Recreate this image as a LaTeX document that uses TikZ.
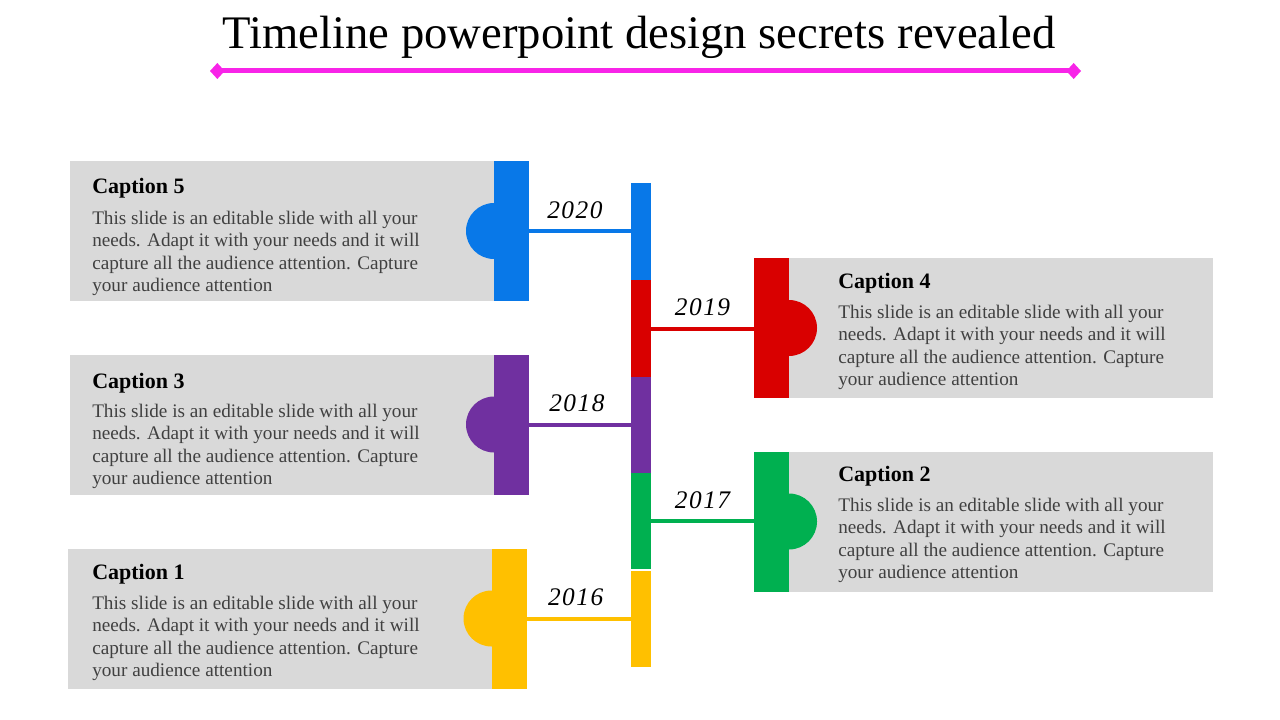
\documentclass[tikz,border=0pt]{standalone}
\usepackage{fontspec}
\setmainfont{Liberation Serif}
\newfontfamily\yearfont[LetterSpace=6]{Liberation Serif}
\usetikzlibrary{positioning}
\usetikzlibrary{arrows.meta}
\definecolor{slidegray}{RGB}{217, 217, 217}
\definecolor{bodygray}{RGB}{64, 64, 64}
\definecolor{capblue}{RGB}{8, 120, 232}
\definecolor{capred}{RGB}{217, 0, 0}
\definecolor{cappurple}{RGB}{112, 48, 160}
\definecolor{capgreen}{RGB}{0, 176, 80}
\definecolor{capyellow}{RGB}{255, 192, 0}
\definecolor{rulemagenta}{RGB}{248, 36, 232}

\tikzset{
  panel/.style={fill=slidegray, minimum width=318pt, minimum height=105pt, inner sep=0pt, outer sep=0pt},
  tab/.style={minimum width=26.25pt, minimum height=105pt, inner sep=0pt, outer sep=0pt},
  spine/.style={minimum width=15pt, minimum height=72.4pt, inner sep=0pt, outer sep=0pt},
  link/.style={line width=3pt},
  year/.style={font=\fontsize{19}{21}\selectfont\yearfont\itshape, inner sep=0pt},
  captitle/.style={font=\fontsize{16.5}{19}\selectfont\bfseries, anchor=base west, inner sep=0pt},
  capbody/.style={font=\fontsize{14.4}{16.7}\selectfont, text=bodygray, align=left, anchor=north west, inner sep=0pt}
}
\newcommand{\captext}{This slide is an editable slide with all your\\needs. Adapt it with your needs and it will\\capture all the audience attention. Capture\\your audience attention}

\begin{document}
\begin{tikzpicture}[x=0.75pt, y=-0.75pt]
  \useasboundingbox (0,0) rectangle (1280,720);
  \node[font=\fontsize{35}{40}\selectfont, anchor=base, inner sep=0pt] (title) at (639,49) {Timeline powerpoint design secrets revealed};
  \coordinate (rulel) at (210,71);
  \coordinate (ruler) at (1081,71);
  \draw[rulemagenta, line width=3.75pt, {Turned Square[length=11pt, width=12pt]}-{Turned Square[length=11pt, width=12pt]}] (rulel) -- (ruler);

  \node[spine, fill=capblue]   (seg5) at (641,231.5) {};
  \node[spine, fill=capred]    (seg4) at (641,328.5) {};
  \node[spine, fill=cappurple] (seg3) at (641,425)   {};
  \node[spine, fill=capgreen]  (seg2) at (641,521)   {};
  \node[spine, fill=capyellow, minimum height=72pt] (seg1) at (641,619) {};

  \node[tab, fill=capblue]   (tab5) at (511.5,231)   {};
  \node[tab, fill=capred]    (tab4) at (771.5,328)   {};
  \node[tab, fill=cappurple] (tab3) at (511.5,424.5) {};
  \node[tab, fill=capgreen]  (tab2) at (771.5,521.5) {};
  \node[tab, fill=capyellow] (tab1) at (509,618.5)   {};

  \node[panel, left=0pt of tab5]  (box5) {};
  \node[panel, right=0pt of tab4] (box4) {};
  \node[panel, left=0pt of tab3]  (box3) {};
  \node[panel, right=0pt of tab2] (box2) {};
  \node[panel, left=0pt of tab1]  (box1) {};

  \fill[capblue]   (tab5.west) circle (21pt);
  \fill[capred]    (tab4.east) circle (21pt);
  \fill[cappurple] (tab3.west) circle (21pt);
  \fill[capgreen]  (tab2.east) circle (21pt);
  \fill[capyellow] (tab1.west) circle (21pt);
  \node[tab, fill=capblue]   at (tab5) {};
  \node[tab, fill=capred]    at (tab4) {};
  \node[tab, fill=cappurple] at (tab3) {};
  \node[tab, fill=capgreen]  at (tab2) {};
  \node[tab, fill=capyellow] at (tab1) {};

  \draw[link, capblue]   (tab5.east) -- (tab5.east -| seg5.west) node[year, pos=0.45, above=8pt, text=black] (y2020) {2020};
  \draw[link, capred]    (seg4.east) -- (seg4.east -| tab4.west) node[year, midway, above=8pt, text=black] (y2019) {2019};
  \draw[link, cappurple] (tab3.east) -- (tab3.east -| seg3.west) node[year, pos=0.47, above=8pt, text=black] (y2018) {2018};
  \draw[link, capgreen]  (seg2.east) -- (seg2.east -| tab2.west) node[year, midway, above=8pt, text=black] (y2017) {2017};
  \draw[link, capyellow] (tab1.east) -- (tab1.east -| seg1.west) node[year, pos=0.47, above=8pt, text=black] (y2016) {2016};

  \node[captitle] (cap5) at (92,194)  {Caption 5};
  \node[capbody]  (txt5) at (92,211)  {\captext};
  \node[captitle] (cap4) at (838,288) {Caption 4};
  \node[capbody]  (txt4) at (838,305) {\captext};
  \node[captitle] (cap3) at (92,388)  {Caption 3};
  \node[capbody]  (txt3) at (92,404)  {\captext};
  \node[captitle] (cap2) at (838,481) {Caption 2};
  \node[capbody]  (txt2) at (838,498) {\captext};
  \node[captitle] (cap1) at (92,579)  {Caption 1};
  \node[capbody]  (txt1) at (92,596)  {\captext};
\end{tikzpicture}
\end{document}
